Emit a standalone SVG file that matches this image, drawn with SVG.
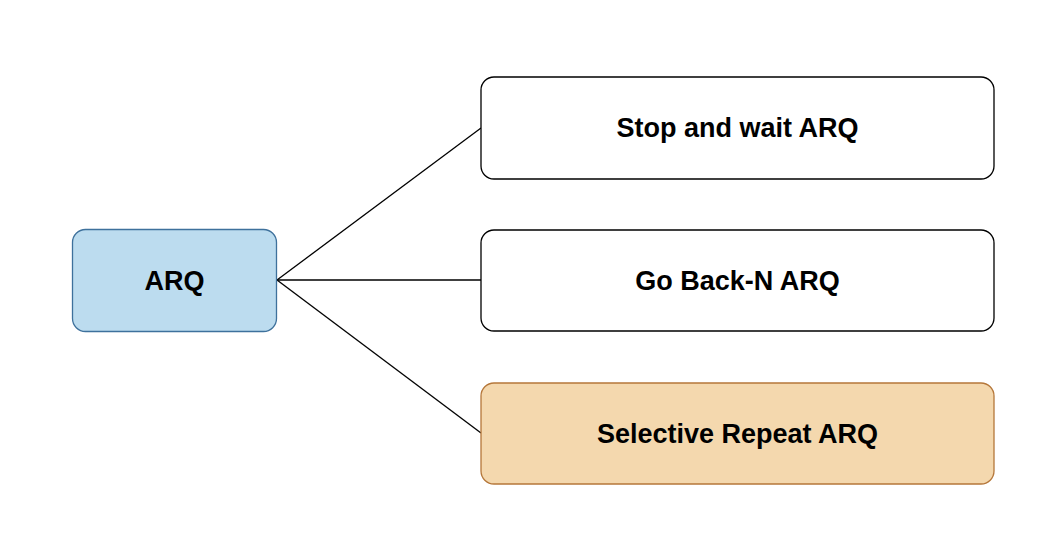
<svg xmlns="http://www.w3.org/2000/svg" width="1060" height="542" viewBox="0 0 1060 542">
<style>
.n{stroke-width:1.3}
.w{fill:#ffffff;stroke:#000000}
.t{font-family:"Liberation Sans",Arial,sans-serif;font-weight:bold;font-size:27px;fill:#000;text-anchor:middle;dominant-baseline:central}
.c{stroke:#000;stroke-width:1.3;fill:none}
</style>
<rect width="1060" height="542" fill="#ffffff"/>
<g id="connectors">
<line class="c" x1="277" y1="280" x2="481" y2="128"/>
<line class="c" x1="277" y1="280" x2="481" y2="280"/>
<line class="c" x1="277" y1="280" x2="481" y2="433"/>
</g>
<g id="arq">
<rect class="n" x="72.5" y="229.5" width="204" height="102" rx="13" fill="#bcdcef" stroke="#3e719c"/>
<text class="t" x="174.5" y="281">ARQ</text>
</g>
<g id="stop-and-wait">
<rect class="n w" x="481" y="77" width="513" height="102" rx="13"/>
<text class="t" x="737.5" y="128">Stop and wait ARQ</text>
</g>
<g id="go-back-n">
<rect class="n w" x="481" y="230" width="513" height="101" rx="13"/>
<text class="t" x="737.5" y="281">Go Back-N ARQ</text>
</g>
<g id="selective-repeat">
<rect class="n" x="481" y="383" width="513" height="101" rx="13" fill="#f4d8ae" stroke="#b5773a"/>
<text class="t" x="737.5" y="434">Selective Repeat ARQ</text>
</g>
</svg>
